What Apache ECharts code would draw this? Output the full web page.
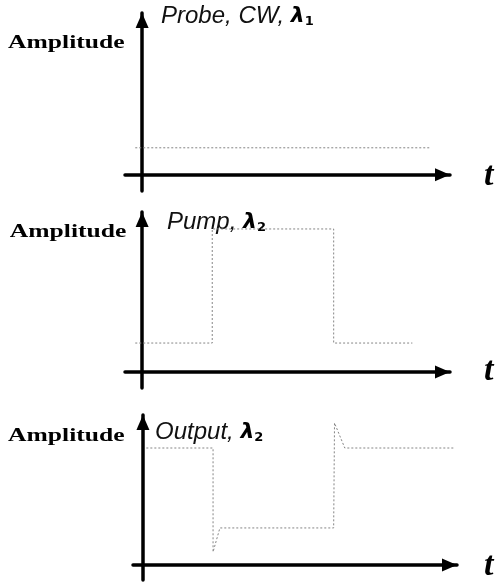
<!DOCTYPE html>
<html>
<head>
<meta charset="utf-8">
<script src="https://cdn.jsdelivr.net/npm/echarts@6/dist/echarts.min.js"></script>
<style>
html, body { margin: 0; padding: 0; background: #fff; }
#chart { width: 495px; height: 583px; }
</style>
</head>
<body>
<div id="chart"></div>
<script>
// Panel captions
const panelNames = ['Probe, CW, ', 'Pump, ', 'Output, '];
const panelLambdaIndex = ['1', '2', '2'];
const axisName = 'Amplitude';
const timeName = 't';

// Probe: continuous wave at λ1
const probeTime = [-0.4, 16.8];
const probeAmp = [1.67, 1.67];

// Pump: rectangular pulse at λ2
const pumpTime = [-0.4, 4.1, 4.1, 11.2, 11.2, 15.8];
const pumpAmp = [1.81, 1.81, 8.94, 8.94, 1.81, 1.81];

// Output at λ2: inverted pulse with transient overshoots on both edges
const outputTime = [0.2, 4.1, 4.1, 4.5, 11.15, 11.2, 11.8, 18.2];
const outputAmp = [7.8, 7.8, 0.87, 2.47, 2.47, 9.47, 7.8, 7.8];

// Axis ranges (arbitrary units)
const xRanges = [[-1, 18], [-1, 18], [-0.58, 18.36]];
const yRange = [-1, 10];

const pair = (t, a) => t.map((v, i) => [v, a[i]]);
const seriesData = [pair(probeTime, probeAmp), pair(pumpTime, pumpAmp), pair(outputTime, outputAmp)];

// Pixel layout of the three stacked panels
const grids = [
  { left: 125, width: 325, top: 13, height: 178 },
  { left: 125, width: 325, top: 212, height: 176 },
  { left: 133, width: 324, top: 415, height: 165 }
];

const axisLineStyle = { color: '#000', width: 3.5 };
const makeAxis = (i, range) => ({
  type: 'value', gridIndex: i, min: range[0], max: range[1],
  axisLine: {
    show: true, onZero: true,
    symbol: ['none', 'triangle'], symbolSize: [13, 15], symbolOffset: [0, -7.5],
    lineStyle: axisLineStyle
  },
  axisTick: { show: false }, axisLabel: { show: false }, splitLine: { show: false }
});
const xAxes = grids.map((g, i) => makeAxis(i, xRanges[i]));
const yAxes = grids.map((g, i) => makeAxis(i, yRange));

const series = seriesData.map((d, i) => ({
  type: 'line', xAxisIndex: i, yAxisIndex: i, data: d,
  symbol: 'none', silent: true, animation: false,
  lineStyle: { color: '#858585', width: 1, type: [2, 2] }
}));

// Text placement per panel
const ampLabelX = [14, 17, 14];
const ampLabelY = [43, 232, 436];
const titlePos = [[161, 16], [167, 222], [155, 432]];
const titleSpacing = [0, 0, 2];
const tLabelY = [176, 371, 566];

const graphics = [];
for (let i = 0; i < 3; i++) {
  graphics.push({
    type: 'text', x: ampLabelX[i], y: ampLabelY[i],
    style: { text: axisName, font: 'bold 18px "Liberation Serif"', fill: '#000', verticalAlign: 'middle' },
    scaleX: 1.42, originX: ampLabelX[i]
  });
  graphics.push({
    type: 'text', x: titlePos[i][0], y: titlePos[i][1],
    style: {
      text: '{n|' + panelNames[i] + '}{l|λ}{s|' + panelLambdaIndex[i] + '}',
      verticalAlign: 'middle',
      rich: {
        n: { font: 'italic 24px "Liberation Sans"', fill: '#111', letterSpacing: titleSpacing[i] },
        l: { font: 'italic bold 22px "DejaVu Sans"', fill: '#000' },
        s: { font: 'bold 13px "DejaVu Sans"', fill: '#000', padding: [12, 0, 0, 0] }
      }
    }
  });
  graphics.push({
    type: 'text', x: 484, y: tLabelY[i],
    style: { text: timeName, font: 'italic bold 34px "Liberation Serif"', fill: '#000', verticalAlign: 'middle' }
  });
}

const chart = echarts.init(document.getElementById('chart'), null, { renderer: 'canvas' });
chart.setOption({
  animation: false,
  backgroundColor: '#fff',
  grid: grids,
  xAxis: xAxes,
  yAxis: yAxes,
  series: series,
  graphic: graphics
});
</script>
</body>
</html>
